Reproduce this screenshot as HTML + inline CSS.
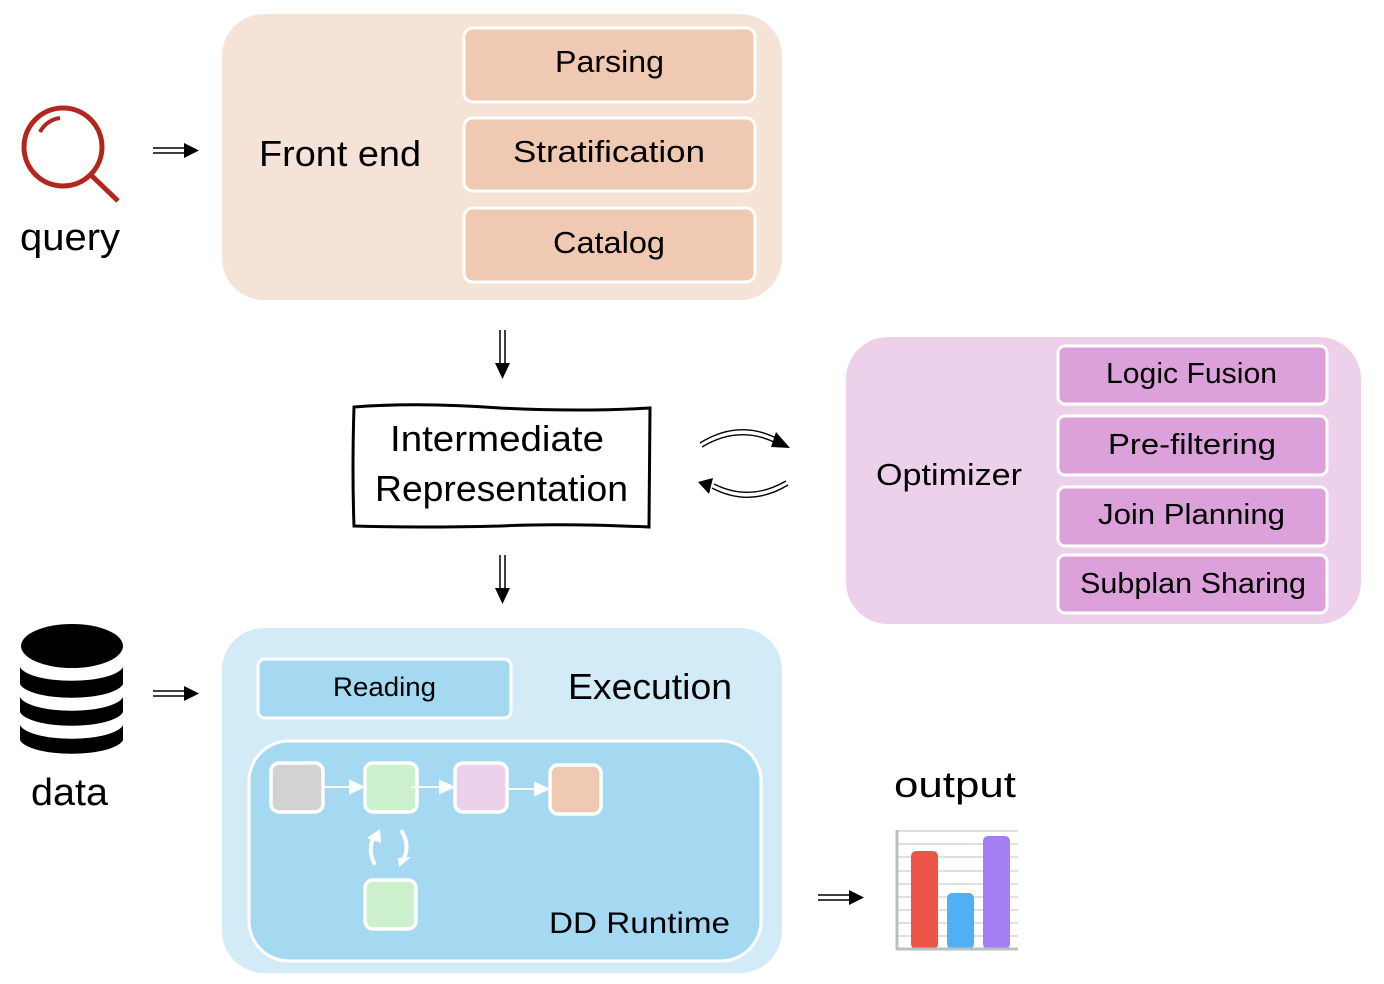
<!DOCTYPE html>
<html><head><meta charset="utf-8"><style>
html,body{margin:0;padding:0;background:#fff;}
svg{display:block;font-family:"Liberation Sans","DejaVu Sans",sans-serif;}
</style></head><body>
<svg width="1384" height="984" viewBox="0 0 1384 984" xmlns="http://www.w3.org/2000/svg">
<defs>
<marker id="ah" markerWidth="10" markerHeight="10" refX="8" refY="5" orient="auto" markerUnits="userSpaceOnUse"><path d="M0,0 L10,5 L0,10 Z" fill="#000"/></marker>
</defs>

<!-- Front end -->
<rect x="222" y="14" width="560" height="286" rx="42" fill="#f5e3d8"/>
<rect x="464" y="28" width="291" height="74" rx="9" fill="#efc9b1" stroke="#fff" stroke-width="3"/>
<rect x="464" y="118" width="291" height="73" rx="9" fill="#efc9b1" stroke="#fff" stroke-width="3"/>
<rect x="464" y="208" width="291" height="74" rx="9" fill="#efc9b1" stroke="#fff" stroke-width="3"/>
<text x="259" y="166" font-size="36" textLength="162" lengthAdjust="spacingAndGlyphs">Front end</text>
<text x="555" y="72" font-size="31" textLength="109" lengthAdjust="spacingAndGlyphs">Parsing</text>
<text x="513" y="162" font-size="31" textLength="192" lengthAdjust="spacingAndGlyphs">Stratification</text>
<text x="553" y="253" font-size="31" textLength="112" lengthAdjust="spacingAndGlyphs">Catalog</text>

<!-- query icon -->
<circle cx="63" cy="147" r="39" fill="none" stroke="#b3261e" stroke-width="5"/>
<path d="M40,132 A26,26 0 0 1 60,118" fill="none" stroke="#b3261e" stroke-width="4"/>
<line x1="92" y1="176" x2="118" y2="201" stroke="#b3261e" stroke-width="5"/>
<text x="20" y="250" font-size="38" textLength="100" lengthAdjust="spacingAndGlyphs">query</text>

<!-- double arrows horizontal -->
<g stroke="#000" stroke-width="1.5">
<line x1="153" y1="148" x2="186" y2="148"/><line x1="153" y1="153" x2="186" y2="153"/>
<line x1="153" y1="691" x2="186" y2="691"/><line x1="153" y1="696" x2="186" y2="696"/>
<line x1="818" y1="895" x2="851" y2="895"/><line x1="818" y1="900" x2="851" y2="900"/>
<line x1="500" y1="330" x2="500" y2="365"/><line x1="505" y1="330" x2="505" y2="365"/>
<line x1="500" y1="555" x2="500" y2="590"/><line x1="505" y1="555" x2="505" y2="590"/>
</g>
<path d="M184,143 L199,150.5 L184,158 Z"/>
<path d="M184,686 L199,693.5 L184,701 Z"/>
<path d="M849,890 L864,897.5 L849,905 Z"/>
<path d="M495,363 L502.5,379 L510,363 Z"/>
<path d="M495,588 L502.5,604 L510,588 Z"/>

<!-- IR box -->
<path d="M354,407 Q420,402 500,408 Q580,412 650,408 L649,527 Q560,523 500,526 Q420,528 354,526 Q352,470 354,407 Z" fill="#fff" stroke="#000" stroke-width="3"/>
<text x="390" y="451" font-size="36" textLength="214" lengthAdjust="spacingAndGlyphs">Intermediate</text>
<text x="375" y="501" font-size="36" textLength="253" lengthAdjust="spacingAndGlyphs">Representation</text>

<!-- curved arrows -->
<g fill="none" stroke="#000" stroke-width="1.4">
<path d="M700,443 Q740,418 780,440"/><path d="M702,447 Q740,424 778,444"/>
<path d="M788,485 Q750,508 712,488"/><path d="M786,481 Q750,502 714,484"/>
</g>
<path d="M776,432 L790,448 L771,447 Z"/>
<path d="M713,478 L698,482 L709,494 Z"/>

<!-- Optimizer -->
<rect x="846" y="337" width="515" height="287" rx="42" fill="#edd0ea"/>
<rect x="1058" y="346" width="269" height="58" rx="7" fill="#dca0da" stroke="#fff" stroke-width="3"/>
<rect x="1058" y="416" width="269" height="59" rx="7" fill="#dca0da" stroke="#fff" stroke-width="3"/>
<rect x="1058" y="487" width="269" height="59" rx="7" fill="#dca0da" stroke="#fff" stroke-width="3"/>
<rect x="1058" y="555" width="269" height="58" rx="7" fill="#dca0da" stroke="#fff" stroke-width="3"/>
<text x="876" y="485" font-size="31" textLength="146" lengthAdjust="spacingAndGlyphs">Optimizer</text>
<text x="1106" y="383" font-size="29" textLength="171" lengthAdjust="spacingAndGlyphs">Logic Fusion</text>
<text x="1108" y="454" font-size="29" textLength="168" lengthAdjust="spacingAndGlyphs">Pre-filtering</text>
<text x="1098" y="524" font-size="29" textLength="187" lengthAdjust="spacingAndGlyphs">Join Planning</text>
<text x="1080" y="593" font-size="29" textLength="226" lengthAdjust="spacingAndGlyphs">Subplan Sharing</text>

<!-- Execution -->
<rect x="222" y="628" width="560" height="345" rx="42" fill="#d3ebf7"/>
<rect x="258" y="659" width="253" height="59" rx="7" fill="#a5d9f2" stroke="#fff" stroke-width="3"/>
<text x="333" y="696" font-size="27" textLength="103" lengthAdjust="spacingAndGlyphs">Reading</text>
<text x="568" y="699" font-size="36" textLength="164" lengthAdjust="spacingAndGlyphs">Execution</text>
<rect x="249" y="741" width="512" height="220" rx="40" fill="#a5d9f2" stroke="#fff" stroke-width="3"/>
<g stroke="#fff" stroke-width="3.5">
<rect x="271" y="763" width="52" height="49" rx="8" fill="#d2d2d2"/>
<rect x="365" y="763" width="52" height="49" rx="8" fill="#ccefcc"/>
<rect x="455" y="763" width="52" height="49" rx="8" fill="#edd0ea"/>
<rect x="550" y="765" width="51" height="49" rx="8" fill="#efc9b1"/>
<rect x="365" y="880" width="51" height="49" rx="8" fill="#ccefcc"/>
</g>
<g stroke="#fff" stroke-width="2" fill="#fff">
<line x1="324" y1="787" x2="352" y2="787"/><path d="M350,781 L363,787 L350,793 Z"/>
<line x1="412" y1="787" x2="442" y2="787"/><path d="M440,781 L453,787 L440,793 Z"/>
<line x1="508" y1="789" x2="537" y2="789"/><path d="M535,783 L548,789 L535,795 Z"/>
</g>
<g fill="none" stroke="#fff" stroke-width="4">
<path d="M375,865 Q366,848 376,834"/>
<path d="M401,830 Q411,845 403,860"/>
</g>
<path d="M367,838 L380,829 L381,843 Z" fill="#fff"/>
<path d="M398,858 L411,857 L399,867 Z" fill="#fff"/>
<text x="549" y="933" font-size="30" textLength="181" lengthAdjust="spacingAndGlyphs">DD Runtime</text>

<!-- database -->
<ellipse cx="72" cy="646" rx="51" ry="22" fill="#000"/>
<path d="M20,667 A52,16 0 0 0 123,667 L123,684 A52,16 0 0 1 20,684 Z" fill="#000"/>
<path d="M20,697 A52,16 0 0 0 123,697 L123,712 A52,16 0 0 1 20,712 Z" fill="#000"/>
<path d="M20,725 A52,16 0 0 0 123,725 L123,740 A52,16 0 0 1 20,740 Z" fill="#000"/>
<text x="31" y="805" font-size="38" textLength="77" lengthAdjust="spacingAndGlyphs">data</text>

<!-- output -->
<text x="894" y="797" font-size="36" textLength="122" lengthAdjust="spacingAndGlyphs">output</text>
<g stroke="#dde1e1" stroke-width="2">
<line x1="898" y1="831" x2="1018" y2="831"/><line x1="898" y1="844" x2="1018" y2="844"/>
<line x1="898" y1="857" x2="1018" y2="857"/><line x1="898" y1="871" x2="1018" y2="871"/>
<line x1="898" y1="884" x2="1018" y2="884"/><line x1="898" y1="897" x2="1018" y2="897"/>
<line x1="898" y1="910" x2="1018" y2="910"/><line x1="898" y1="923" x2="1018" y2="923"/>
<line x1="898" y1="936" x2="1018" y2="936"/>
</g>
<rect x="911" y="851" width="27" height="98" rx="5" fill="#ec5548"/>
<rect x="947" y="893" width="27" height="56" rx="5" fill="#4fb0f5"/>
<rect x="983" y="836" width="27" height="113" rx="5" fill="#a47ff3"/>
<line x1="897" y1="830" x2="897" y2="950" stroke="#b8c0c0" stroke-width="3"/>
<line x1="896" y1="949" x2="1018" y2="949" stroke="#b8c0c0" stroke-width="3"/>
</svg>
</body></html>
